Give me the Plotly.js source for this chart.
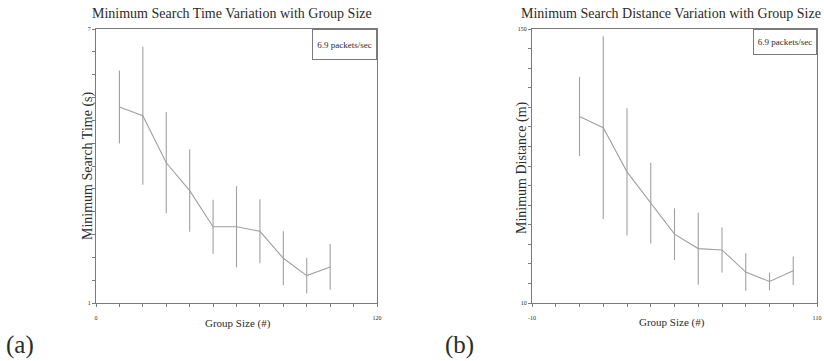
<!DOCTYPE html>
<html>
<head>
<meta charset="utf-8">
<script src="https://cdn.plot.ly/plotly-3.0.1.min.js"></script>
<style>
  html, body { margin: 0; padding: 0; background: #ffffff; }
  #chart { width: 824px; height: 361px; }
</style>
</head>
<body>
<div id="chart"></div>
<script>
// Group sizes tested (number of robots in the group)
const groupSize = [10, 20, 30, 40, 50, 60, 70, 80, 90, 100];

// (a) minimum search time (s): mean and error half-width
const timeMean = [5.29, 5.10, 4.07, 3.46, 2.67, 2.67, 2.57, 1.98, 1.60, 1.79];
const timeErr  = [0.80, 1.51, 1.11, 0.90, 0.59, 0.89, 0.70, 0.59, 0.39, 0.50];

// (b) minimum search distance (m): mean and error half-width
const distMean = [105.3, 99.6, 77.0, 61.0, 45.2, 37.8, 37.1, 25.8, 21.0, 26.5];
const distErr  = [20.2, 46.7, 32.5, 20.6, 13.2, 18.5, 11.5, 9.6, 4.5, 7.3];

// Tick positions and labels (only the end values are labelled)
const timeTicks    = [1, 1.5, 2, 2.5, 3, 3.5, 4, 4.5, 5, 5.5, 6, 6.5, 7];
const timeTickText = ['1', '', '', '', '', '', '', '', '', '', '', '', '7'];
const groupTicksA    = [0, 10, 20, 30, 40, 50, 60, 70, 80, 90, 100, 110, 120];
const groupTickTextA = ['0', '', '', '', '', '', '', '', '', '', '', '', '120'];
const distTicks    = [10, 20, 30, 40, 50, 60, 70, 80, 90, 100, 110, 120, 130, 140, 150];
const distTickText = ['10', '', '', '', '', '', '', '', '', '', '', '', '', '', '150'];
const groupTicksB    = [-10, 0, 10, 20, 30, 40, 50, 60, 70, 80, 90, 100, 110];
const groupTickTextB = ['-10', '', '', '', '', '', '', '', '', '', '', '', '110'];

const rateLabel = '6.9 packets/sec';

const W = 824, H = 361;
const px = v => v / W;
const py = v => 1 - v / H;

const SERIF = "'Liberation Serif', 'Times New Roman', Times, serif";
const TEXT = '#2b2b2b';
const LINE = '#a0a0a0';
const AXIS = '#7a7a7a';

const traces = [
  {
    x: groupSize, y: timeMean, xaxis: 'x', yaxis: 'y',
    type: 'scatter', mode: 'lines', name: rateLabel,
    line: { color: LINE, width: 1.1 },
    error_y: { type: 'data', array: timeErr, visible: true, color: LINE, thickness: 1.1, width: 0 },
    showlegend: false, hoverinfo: 'x+y'
  },
  {
    x: groupSize, y: distMean, xaxis: 'x2', yaxis: 'y2',
    type: 'scatter', mode: 'lines', name: rateLabel,
    line: { color: LINE, width: 1.1 },
    error_y: { type: 'data', array: distErr, visible: true, color: LINE, thickness: 1.1, width: 0 },
    showlegend: false, hoverinfo: 'x+y'
  }
];

function axisStyle(extra) {
  return Object.assign({
    showgrid: false, zeroline: false,
    showline: true, linecolor: AXIS, linewidth: 1, mirror: true,
    ticks: 'outside', ticklen: 3, tickcolor: AXIS, tickwidth: 1,
    tickmode: 'array',
    tickfont: { family: SERIF, size: 6, color: TEXT },
    fixedrange: true
  }, extra);
}

const yDomain = [py(303), py(29)];

const layout = {
  width: W, height: H,
  margin: { l: 0, r: 0, t: 0, b: 0, pad: 0 },
  paper_bgcolor: '#ffffff', plot_bgcolor: '#ffffff',
  showlegend: false,
  font: { family: SERIF, color: TEXT },
  xaxis: axisStyle({ domain: [px(96), px(377)], range: [0, 120], anchor: 'y',
    tickvals: groupTicksA, ticktext: groupTickTextA, ticklabelstandoff: 6 }),
  yaxis: axisStyle({ domain: yDomain, range: [1, 7], anchor: 'x',
    tickvals: timeTicks, ticktext: timeTickText }),
  xaxis2: axisStyle({ domain: [px(532), px(817)], range: [-10, 110], anchor: 'y2',
    tickvals: groupTicksB, ticktext: groupTickTextB, ticklabelstandoff: 6 }),
  yaxis2: axisStyle({ domain: yDomain, range: [10, 150], anchor: 'x2',
    tickvals: distTicks, ticktext: distTickText }),
  annotations: [
    // chart titles
    { text: 'Minimum Search Time Variation with Group Size', xref: 'paper', yref: 'paper',
      x: px(232), y: py(14), xanchor: 'center', yanchor: 'middle', showarrow: false,
      font: { family: SERIF, size: 14, color: TEXT } },
    { text: 'Minimum Search Distance Variation with Group Size', xref: 'paper', yref: 'paper',
      x: px(671), y: py(14), xanchor: 'center', yanchor: 'middle', showarrow: false,
      font: { family: SERIF, size: 14, color: TEXT } },
    // axis titles
    { text: 'Minimum Search Time (s)', xref: 'paper', yref: 'paper', textangle: -90,
      x: px(88), y: py(166), xanchor: 'center', yanchor: 'middle', showarrow: false,
      font: { family: SERIF, size: 14, color: TEXT } },
    { text: 'Minimum Distance (m)', xref: 'paper', yref: 'paper', textangle: -90,
      x: px(522), y: py(168), xanchor: 'center', yanchor: 'middle', showarrow: false,
      font: { family: SERIF, size: 14, color: TEXT } },
    { text: 'Group Size (#)', xref: 'paper', yref: 'paper',
      x: px(238), y: py(323), xanchor: 'center', yanchor: 'middle', showarrow: false,
      font: { family: SERIF, size: 11, color: TEXT } },
    { text: 'Group Size (#)', xref: 'paper', yref: 'paper',
      x: px(672), y: py(322), xanchor: 'center', yanchor: 'middle', showarrow: false,
      font: { family: SERIF, size: 11, color: TEXT } },
    // rate boxes in the top-right corner of each panel
    { text: rateLabel, xref: 'x domain', yref: 'y domain', x: 1, y: 1,
      xanchor: 'right', yanchor: 'top', showarrow: false,
      width: 63, height: 29, borderpad: 0, bordercolor: AXIS, borderwidth: 1,
      bgcolor: '#ffffff', font: { family: SERIF, size: 9, color: TEXT } },
    { text: rateLabel, xref: 'x2 domain', yref: 'y2 domain', x: 1, y: 1,
      xanchor: 'right', yanchor: 'top', showarrow: false,
      width: 62, height: 24, borderpad: 0, bordercolor: AXIS, borderwidth: 1,
      bgcolor: '#ffffff', font: { family: SERIF, size: 9, color: TEXT } },
    // panel labels
    { text: '(a)', xref: 'paper', yref: 'paper',
      x: px(20), y: py(345), xanchor: 'center', yanchor: 'middle', showarrow: false,
      font: { family: SERIF, size: 25, color: TEXT } },
    { text: '(b)', xref: 'paper', yref: 'paper',
      x: px(459), y: py(345), xanchor: 'center', yanchor: 'middle', showarrow: false,
      font: { family: SERIF, size: 25, color: TEXT } }
  ]
};

Plotly.newPlot('chart', traces, layout, { staticPlot: true, displayModeBar: false });
</script>
</body>
</html>
